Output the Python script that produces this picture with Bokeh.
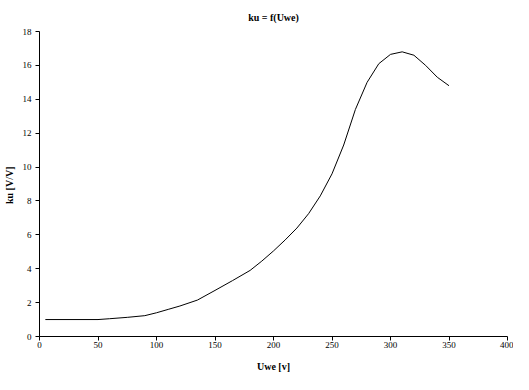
from bokeh.plotting import figure
from bokeh.embed import file_html
from bokeh.resources import INLINE
from bokeh.models import Range1d, FixedTicker

uwe = [5, 50, 60, 75, 90, 100, 110, 120, 135, 150, 165, 180, 190, 200, 210, 220,
       230, 240, 250, 260, 270, 280, 290, 300, 310, 320, 330, 340, 350]
ku = [1.0, 1.0, 1.05, 1.13, 1.23, 1.4, 1.6, 1.8, 2.15, 2.72, 3.3, 3.9, 4.45, 5.05,
      5.7, 6.4, 7.25, 8.3, 9.6, 11.3, 13.4, 15.0, 16.1, 16.65, 16.8, 16.6, 16.0, 15.3, 14.8]

x_ticks = [0, 50, 100, 150, 200, 250, 300, 350, 400]
y_ticks = [0, 2, 4, 6, 8, 10, 12, 14, 16, 18]

FONT = "Liberation Serif"

p = figure(width=513, height=374, output_backend="svg", toolbar_location=None,
           x_range=Range1d(0, 400), y_range=Range1d(0, 18),
           title="ku = f(Uwe)",
           min_border_left=33, min_border_right=6, min_border_top=30, min_border_bottom=37)

p.line(uwe, ku, line_color="black", line_width=1)

p.title.align = "center"
p.title.text_font = FONT
p.title.text_font_size = "10px"
p.title.text_font_style = "bold"
p.title.text_color = "black"
p.title.standoff = 18

p.xgrid.visible = False
p.ygrid.visible = False
p.outline_line_color = None
p.background_fill_color = "white"
p.border_fill_color = "white"

for ax, ticks in ((p.xaxis[0], x_ticks), (p.yaxis[0], y_ticks)):
    ax.ticker = FixedTicker(ticks=ticks)
    ax.minor_tick_line_color = None
    ax.major_tick_in = 0
    ax.major_tick_out = 4
    ax.axis_line_color = "black"
    ax.major_tick_line_color = "black"
    ax.major_label_text_font = FONT
    ax.major_label_text_font_size = "9px"
    ax.major_label_text_color = "black"
    ax.axis_label_text_font = FONT
    ax.axis_label_text_font_size = "10px"
    ax.axis_label_text_font_style = "bold"
    ax.axis_label_text_color = "black"

p.xaxis.axis_label = "Uwe [v]"
p.yaxis.axis_label = "ku  [V/V]"
p.xaxis.major_label_standoff = 1
p.yaxis.major_label_standoff = 4
p.xaxis.axis_label_standoff = 10
p.yaxis.axis_label_standoff = 5

open("out.html", "w").write(file_html(p, INLINE))
